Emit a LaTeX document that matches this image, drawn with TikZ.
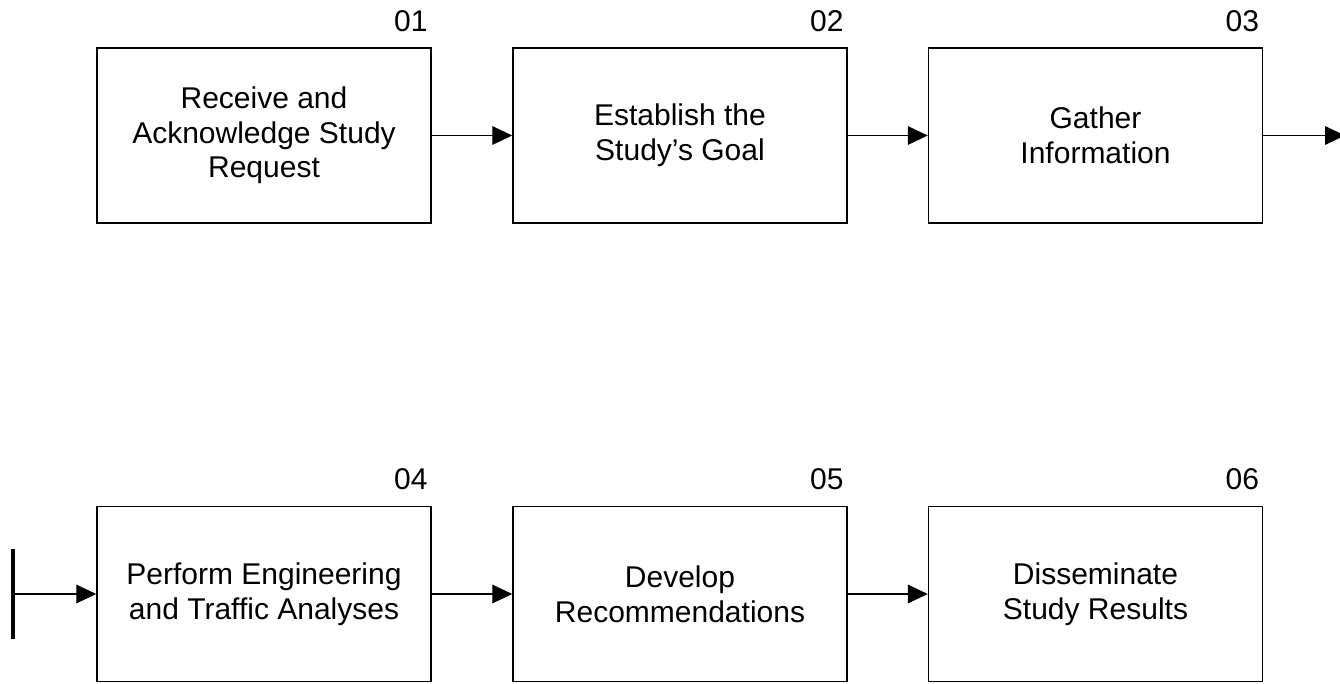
\documentclass[tikz,border=0pt]{standalone}
\usepackage{fontspec}
\setmainfont{Liberation Sans}
\usetikzlibrary{arrows.meta}

\tikzset{
	stepbox/.style={draw,line width=1.1pt,minimum width=250.5pt,minimum height=131.25pt,inner sep=0,align=center,font=\fontsize{22.5}{26}\selectfont},
	stepnum/.style={anchor=base east,inner sep=0,xshift=-3pt,yshift=12pt,font=\fontsize{22.5}{26}\selectfont},
	flow/.style={line width=0.8pt,-{Triangle[length=15pt,width=14pt]}}
}

\begin{document}
\begin{tikzpicture}[x=0.75pt,y=-0.75pt]
	\useasboundingbox (0,0) rectangle (1340,683);
	\node[stepbox] (1) at (264,135.5) {Receive and\\Acknowledge Study\\Request};
	\node[stepbox] (2) at (680,135.5) {Establish the\\Study's Goal};
	\node[stepbox] (3) at (1095.5,135.5) {Gather\\Information};
	\node[stepbox] (4) at (264,594) {Perform Engineering\\and Traffic Analyses};
	\node[stepbox] (5) at (680,594) {Develop\\Recommendations};
	\node[stepbox] (6) at (1095.5,594) {Disseminate\\Study Results};
	\node[stepnum] (n1) at (1.north east) {01};
	\node[stepnum] (n2) at (2.north east) {02};
	\node[stepnum] (n3) at (3.north east) {03};
	\node[stepnum] (n4) at (4.north east) {04};
	\node[stepnum] (n5) at (5.north east) {05};
	\node[stepnum] (n6) at (6.north east) {06};
	\coordinate (out) at (1345,135.5);
	\coordinate (bartop) at (13,549);
	\coordinate (barbot) at (13,639);
	\coordinate (in) at (13,594);
	\draw[flow] (1) -- (2);
	\draw[flow] (2) -- (3);
	\draw[flow] (3.east) -- (out);
	\draw[line width=3pt] (bartop) -- (barbot);
	\draw[flow] (in) -- (4);
	\draw[flow] (4) -- (5);
	\draw[flow] (5) -- (6);
\end{tikzpicture}
\end{document}
